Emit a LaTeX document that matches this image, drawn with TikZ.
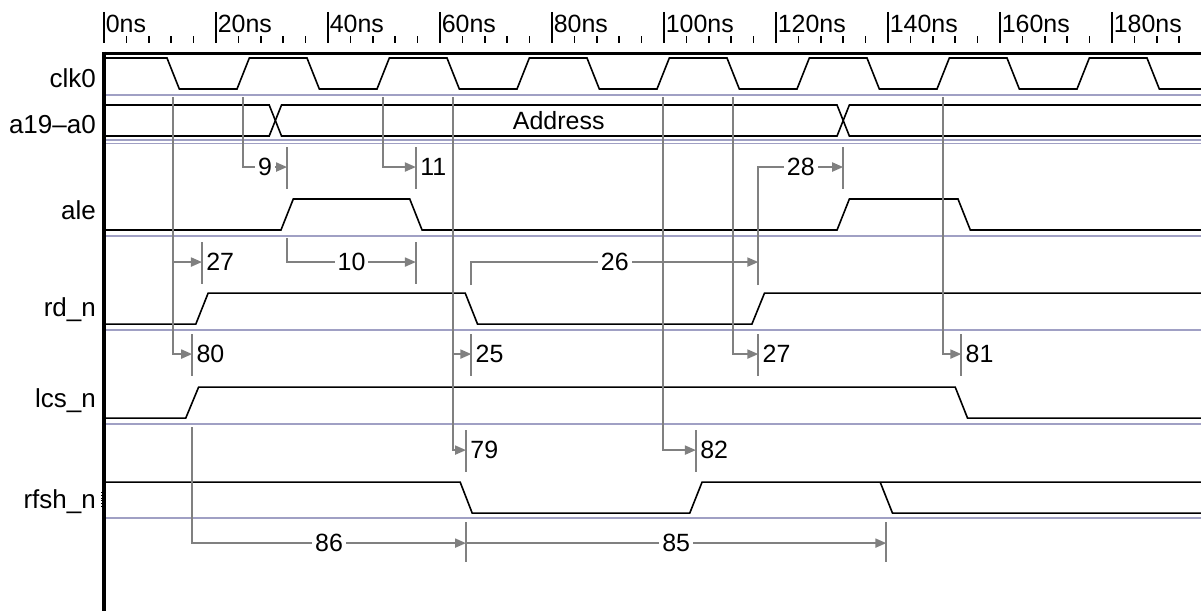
\documentclass[tikz,border=0pt]{standalone}
\usepackage{fontspec}
\setmainfont{Liberation Sans}
\usetikzlibrary{arrows.meta, calc, positioning}
\definecolor{sepcol}{RGB}{160,160,196}
\definecolor{dimcol}{RGB}{128,128,128}
\tikzstyle{sig} = [%
  draw=black,
  line width=0.032cm,
  line join=miter
]
\tikzstyle{sep} = [%
  draw=sepcol,
  line width=0.03cm
]
\tikzstyle{dim} = [%
  draw=dimcol,
  line width=0.04cm
]
\tikzstyle{dimarrow} = [%
  dim,
  -{Triangle[length=0.22cm,width=0.18cm]}
]
\tikzstyle{siglabel} = [%
  anchor=base east,
  inner sep=0pt,
  font=\fontsize{14.8pt}{17pt}\selectfont
]
\tikzstyle{lbl} = [%
  fill=white,
  inner xsep=0.06cm,
  inner ysep=0pt
]
\tikzstyle{rlbl} = [%
  anchor=west,
  inner xsep=0.08cm,
  inner ysep=0pt
]

\begin{document}
\begin{tikzpicture}[%
  x=0.112cm,
  y=-0.02cm,
  every node/.style={%
    font=\fontsize{14.2pt}{17pt}\selectfont,
    text=black
  },
  frame/.style={draw=black,line width=0.07cm}
]
  \useasboundingbox (-18.5714,0) rectangle (195.893,611);

  % Ruler
  \foreach \t in {0,4,...,196}
    \draw[line width=0.035cm] (\t,36) -- (\t,43);
  \foreach \t in {0,20,...,180} {
    \draw[line width=0.035cm] (\t,12) -- (\t,43);
    \node[anchor=base west,inner xsep=0.03cm] (r\t) at (\t,32) {\t ns};
  }

  % Frame
  \draw[frame,line width=0.06cm] (-0.3,53) -- (196,53);
  \draw[frame,line width=0.08cm] (0,51.5) -- (0,611);

  % Separators
  \draw[sep] (0.4,95) -- (196,95);
  \draw[sep,line width=0.024cm] (0.4,140) -- (196,140);
  \draw[sep,line width=0.024cm] (0.4,143.5) -- (196,143.5);
  \draw[sep] (0.4,236) -- (196,236);
  \draw[sep] (0.4,330) -- (196,330);
  \draw[sep] (0.4,424) -- (196,424);
  \draw[sep] (0.4,518) -- (196,518);

  % Signal names
  \node[siglabel] (Lclk) at (-1.4,87) {clk0};
  \node[siglabel] (Laddr) at (-1.4,133) {a19--a0};
  \node[siglabel] (Lale) at (-1.4,219) {ale};
  \node[siglabel] (Lrd) at (-1.4,316) {rd\_n};
  \node[siglabel] (Llcs) at (-1.4,407) {lcs\_n};
  \node[siglabel] (Lrfsh) at (-1.4,508) {rfsh\_n};

  % Waveforms
  \draw[densely dotted,line width=0.02cm] (0.3,60) -- (0.3,79);
  \draw[sig] (0.4,58) -- (11.25,58) -- (13.45,89) -- (23.75,89) -- (25.95,58)
    -- (36.25,58) -- (38.45,89) -- (48.75,89) -- (50.95,58)
    -- (61.25,58) -- (63.45,89) -- (73.75,89) -- (75.95,58)
    -- (86.25,58) -- (88.45,89) -- (98.75,89) -- (100.95,58)
    -- (111.25,58) -- (113.45,89) -- (123.75,89) -- (125.95,58)
    -- (136.25,58) -- (138.45,89) -- (148.75,89) -- (150.95,58)
    -- (161.25,58) -- (163.45,89) -- (173.75,89) -- (175.95,58)
    -- (186.25,58) -- (188.45,89) -- (196,89);
  \draw[sig] (0.4,105) -- (29.5,105) -- (31.7,136) -- (130.9,136) -- (133.1,105) -- (196,105);
  \draw[sig] (0.4,136) -- (29.5,136) -- (31.7,105) -- (130.9,105) -- (133.1,136) -- (196,136);
  \node (addr) at (81.2,120.5) {Address};
  \draw[sig] (0.4,230) -- (31.6,230) -- (33.8,199) -- (54.6,199) -- (56.8,230)
    -- (130.9,230) -- (133.1,199) -- (152.5,199) -- (154.7,230) -- (196,230);
  \draw[sig] (0.4,324) -- (16.4,324) -- (18.6,293) -- (64.5,293) -- (66.7,324)
    -- (115.7,324) -- (117.95,293) -- (196,293);
  \draw[sig] (0.4,418) -- (14.6,418) -- (16.9,387) -- (152,387) -- (154.2,418) -- (196,418);
  \draw[densely dotted,line width=0.02cm] (-0.4,492) -- (-0.4,506);
  \draw[sig] (0.4,482) -- (63.6,482) -- (65.75,513) -- (104.6,513) -- (106.8,482) -- (196,482);
  \draw[sig] (138.6,482) -- (140.8,513) -- (196,513);

  % Edges
  \coordinate (clkF0) at (12.35,97);
  \coordinate (clkR0) at (24.85,97);
  \coordinate (clkR1) at (49.85,97);
  \coordinate (clkF2) at (62.35,97);
  \coordinate (clkR3) at (99.85,97);
  \coordinate (clkF4) at (112.35,97);
  \coordinate (clkR5) at (149.85,97);
  \coordinate (busX1) at (132,167);
  \coordinate (aleR0) at (32.7,238);
  \coordinate (aleF0) at (55.7,238);
  \coordinate (rdR0) at (17.5,285);
  \coordinate (rdF0) at (65.6,285);
  \coordinate (rdR1) at (116.85,285);
  \coordinate (lcsR0) at (15.75,427);
  \coordinate (lcsF0) at (153.1,427);
  \coordinate (rfshF0) at (64.65,522);
  \coordinate (rfshR0) at (105.7,522);
  \coordinate (rfshF1) at (139.7,522);

  % Delay rows
  \coordinate (A1) at (0,167); \coordinate (A1t) at (0,147); \coordinate (A1b) at (0,189);
  \coordinate (A2) at (0,262); \coordinate (A2t) at (0,242); \coordinate (A2b) at (0,284);
  \coordinate (A3) at (0,354); \coordinate (A3t) at (0,334); \coordinate (A3b) at (0,376);
  \coordinate (A4) at (0,450); \coordinate (A4t) at (0,430); \coordinate (A4b) at (0,472);
  \coordinate (A5) at (0,543); \coordinate (A5t) at (0,522); \coordinate (A5b) at (0,562);

  % Target ticks
  \draw[dim] (aleR0 |- A1t) -- (aleR0 |- A1b);
  \draw[dim] (aleF0 |- A1t) -- (aleF0 |- A1b);
  \draw[dim] (busX1 |- A1t) -- (busX1 |- A1b);
  \draw[dim] (rdR0 |- A2t) -- (rdR0 |- A2b);
  \draw[dim] (aleF0 |- A2t) -- (aleF0 |- A2b);
  \draw[dim] (rdR1 |- A2t) -- (rdR1 |- A2b);
  \draw[dim] (lcsR0 |- A3t) -- (lcsR0 |- A3b);
  \draw[dim] (rdF0 |- A3t) -- (rdF0 |- A3b);
  \draw[dim] (rdR1 |- A3t) -- (rdR1 |- A3b);
  \draw[dim] (lcsF0 |- A3t) -- (lcsF0 |- A3b);
  \draw[dim] (rfshF0 |- A4t) -- (rfshF0 |- A4b);
  \draw[dim] (rfshR0 |- A4t) -- (rfshR0 |- A4b);
  \draw[dim] (rfshF0 |- A5t) -- (rfshF0 |- A5b);
  \draw[dim] (rfshF1 |- A5t) -- (rfshF1 |- A5b);

  % Delays
  \draw[dimarrow] (clkR0) |- node[lbl,pos=0.75] (d9) {9} (aleR0 |- A1);
  \draw[dimarrow] (clkR1) |- (aleF0 |- A1);
  \node[rlbl] (d11) at (aleF0 |- A1) {11};
  \draw[dimarrow] (rdR1) |- node[lbl,pos=0.75] (d28) {28} (busX1 |- A1);
  \draw[dimarrow] (clkF0) |- (rdR0 |- A2);
  \node[rlbl] (d27a) at (rdR0 |- A2) {27};
  \draw[dimarrow] (aleR0) |- node[lbl,pos=0.75] (d10) {10} (aleF0 |- A2);
  \draw[dimarrow] (rdF0) |- node[lbl,pos=0.75] (d26) {26} (rdR1 |- A2);
  \draw[dimarrow] (clkF0) |- (lcsR0 |- A3);
  \node[rlbl] (d80) at (lcsR0 |- A3) {80};
  \draw[dimarrow] (clkF2) |- (rdF0 |- A3);
  \node[rlbl] (d25) at (rdF0 |- A3) {25};
  \draw[dimarrow] (clkF4) |- (rdR1 |- A3);
  \node[rlbl] (d27b) at (rdR1 |- A3) {27};
  \draw[dimarrow] (clkR5) |- (lcsF0 |- A3);
  \node[rlbl] (d81) at (lcsF0 |- A3) {81};
  \draw[dimarrow] (clkF2) |- (rfshF0 |- A4);
  \node[rlbl] (d79) at (rfshF0 |- A4) {79};
  \draw[dimarrow] (clkR3) |- (rfshR0 |- A4);
  \node[rlbl] (d82) at (rfshR0 |- A4) {82};
  \draw[dimarrow] (lcsR0) |- node[lbl,pos=0.75] (d86) {86} (rfshF0 |- A5);
  \draw[dimarrow] (rfshF0 |- A5) -- node[lbl] (d85) {85} (rfshF1 |- A5);

\end{tikzpicture}
\end{document}
